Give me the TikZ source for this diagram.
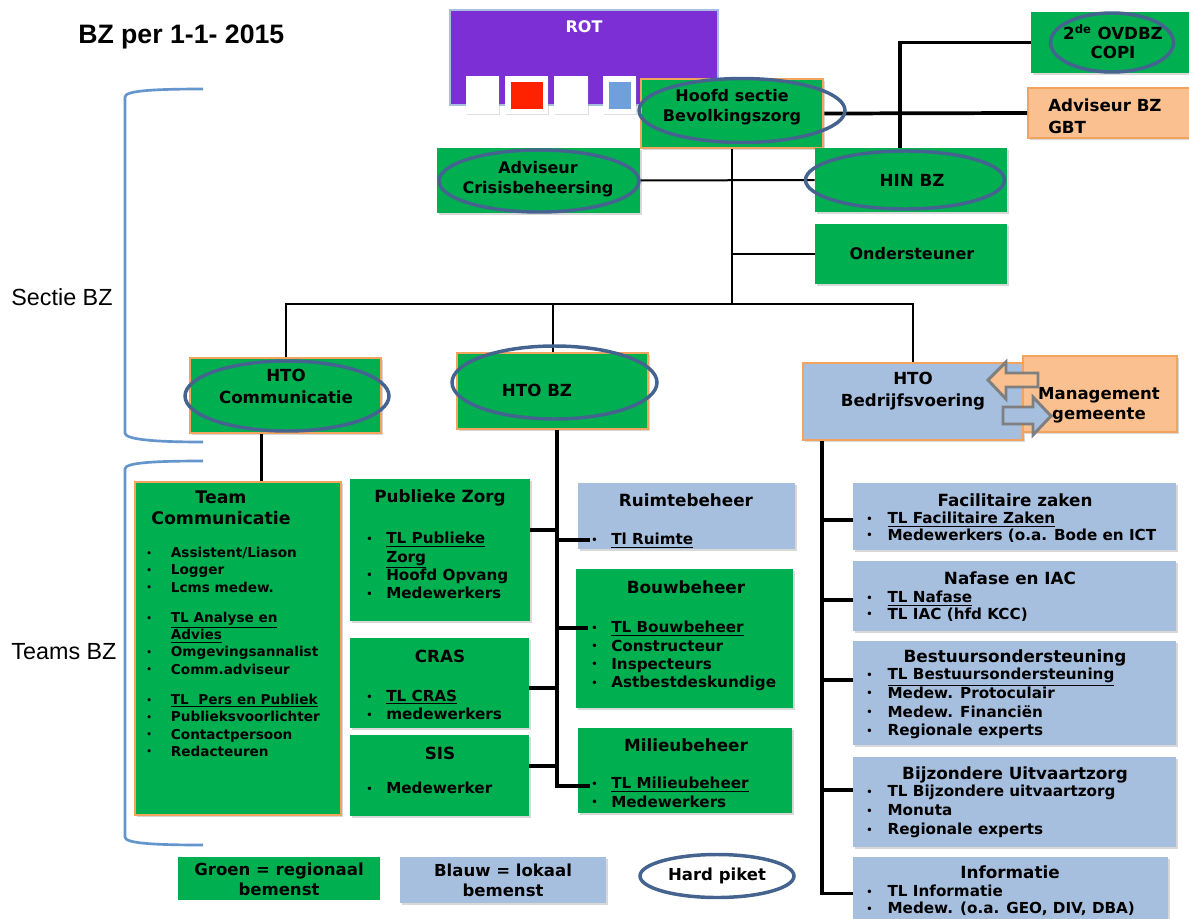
\documentclass[tikz,border=0pt]{standalone}
\usepackage{fontspec}
\setmainfont{DejaVu Sans}
\newfontfamily\arialfont{Liberation Sans}
\usetikzlibrary{fit, shapes.geometric, shadows}

\definecolor{grn}{HTML}{00B050}
\definecolor{orgline}{HTML}{F2A35E}
\definecolor{blu}{HTML}{A7BFDE}
\definecolor{peach}{HTML}{FAC090}
\definecolor{rotpurple}{HTML}{7B2FD4}
\definecolor{ringc}{HTML}{44648F}
\definecolor{bracec}{HTML}{6495CD}
\definecolor{arrgray}{HTML}{7F7F7F}
\definecolor{sqred}{HTML}{FF2200}
\definecolor{sqblue}{HTML}{6FA0DC}

\newlength{\bulw}
\setlength{\bulw}{15pt}
\newcommand{\bul}{\makebox[\bulw][l]{\raisebox{0.1em}{\scalebox{0.65}{\textbullet}}}}
\newcommand{\ttlsz}{\fontsize{12.6}{15.75}\selectfont}
\newcommand{\itmsz}{\fontsize{11.4}{13.7}\selectfont}

\begin{document}
\begin{tikzpicture}[
        x=0.75pt, y=-0.75pt,
        font=\bfseries,
        every node/.style={align=center},
        panel/.style={rectangle, inner sep=0pt,
                      drop shadow={opacity=0.3, shadow xshift=1.5pt, shadow yshift=-1.5pt}},
        grnbox/.style={panel, fill=grn},
        htobox/.style={panel, fill=grn, draw=orgline, line width=2pt},
        blubox/.style={panel, fill=blu},
        peachbox/.style={panel, fill=peach, draw=orgline, line width=1.5pt},
        ring/.style 2 args={ellipse, draw=ringc, line width=2.6pt, inner sep=0pt,
                            minimum width=#1*0.75pt, minimum height=#2*0.75pt},
        lbl/.style={inner sep=0pt},
        ttl/.style={inner sep=0pt, font=\bfseries\ttlsz},
        lst/.style={inner sep=0pt, anchor=north west, align=left, font=\bfseries\itmsz},
        link/.style={line width=1.5pt},
        thklink/.style={line width=2.8pt},
        sidebrace/.style={draw=bracec, line width=2pt},
        blkarrow/.style={draw=arrgray, line width=2.2pt, line join=miter}
    ]
        \useasboundingbox (0,0) rectangle (1189,918);
        \fill[white] (0,0) rectangle (1189,918);

        % Title and side labels
        \node[lbl, anchor=base west, font=\arialfont\bfseries\fontsize{20}{24}\selectfont] (title) at (78,43) {BZ per 1-1- 2015};
        \node[lbl, font=\arialfont\fontsize{17.5}{20}\selectfont] (sectie) at (62,297) {Sectie BZ};
        \node[lbl, font=\arialfont\fontsize{17.5}{20}\selectfont] (teams) at (64,652) {Teams BZ};
        \draw[sidebrace] (203,89) .. controls (150,89) and (125,91) .. (125,97) -- (125,433)
            .. controls (125,439) and (150,442) .. (203,442);
        \draw[sidebrace] (203,461) .. controls (150,461) and (125,463) .. (125,469) -- (125,837)
            .. controls (125,843) and (150,845) .. (203,845);

        % ROT
        \node[fit={(450,10) (718,105)}, fill=rotpurple, draw=blu, line width=0.8pt, inner sep=0pt] (rot) {};
        \node[lbl, text=white, font=\bfseries\fontsize{12}{14}\selectfont] (rot_txt) at (584,27) {ROT};
        \fill[white, drop shadow={opacity=0.25, shadow xshift=1pt, shadow yshift=-1pt}] (466,76) rectangle (499,114);
        \fill[white, drop shadow={opacity=0.25, shadow xshift=1pt, shadow yshift=-1pt}] (505,76) rectangle (548,114);
        \fill[white, drop shadow={opacity=0.25, shadow xshift=1pt, shadow yshift=-1pt}] (554,76) rectangle (588,114);
        \fill[white, drop shadow={opacity=0.25, shadow xshift=1pt, shadow yshift=-1pt}] (603,76) rectangle (636,114);
        \fill[sqred] (511,82) rectangle (543,109);
        \fill[sqblue] (609,82) rectangle (631,109);

        % Section BZ
        \node[htobox, fit={(641,79) (823,148)}] (hoofd) {};
        \node[lbl, font=\bfseries\fontsize{12}{15}\selectfont] (hoofd_txt) at (732,107) {Hoofd sectie\\Bevolkingszorg};
        \node[grnbox, fit={(437,148) (640,213)}] (crisis) {};
        \node[lbl, font=\bfseries\fontsize{12}{15}\selectfont] (crisis_txt) at (538,179) {Adviseur\\Crisisbeheersing};
        \node[grnbox, fit={(815,148) (1007,212)}] (hin) {};
        \node[lbl, font=\bfseries\fontsize{12.5}{15}\selectfont] (hin_txt) at (912,180) {HIN BZ};
        \node[grnbox, fit={(815,224) (1007,284)}] (onder) {};
        \node[lbl, font=\bfseries\fontsize{12}{15}\selectfont] (onder_txt) at (912,254) {Ondersteuner};
        \node[grnbox, fit={(1031,12) (1195,73)}] (copi) {};
        \node[lbl, font=\bfseries\fontsize{12.5}{14.5}\selectfont] (copi_txt) at (1113,42) {2\textsuperscript{de} OVDBZ\\COPI};
        \node[peachbox, fit={(1028,88) (1195,138)}] (gbt) {};
        \node[lbl, anchor=west, align=left, font=\bfseries\fontsize{12.5}{16.5}\selectfont] (gbt_txt) at (1048,116) {Adviseur BZ\\GBT};

        % HTO row
        \node[htobox, fit={(190,358) (381,433)}] (htocom) {};
        \node[lbl, font=\bfseries\fontsize{12.5}{16.5}\selectfont] (htocom_txt) at (286,386) {HTO\\Communicatie};
        \node[htobox, fit={(457,353) (648,429)}] (htobz) {};
        \node[lbl, font=\bfseries\fontsize{12.5}{16.5}\selectfont] (htobz_txt) at (537,390) {HTO BZ};
        \node[htobox, fill=blu, fit={(803,363) (1023,440)}] (htobv) {};
        \node[lbl, font=\bfseries\fontsize{12.5}{16.5}\selectfont] (htobv_txt) at (913,391) {HTO\\Bedrijfsvoering};
        \node[peachbox, fit={(1023,356) (1177,432)}] (mgmt) {};
        \node[lbl, font=\bfseries\fontsize{12.4}{15}\selectfont] (mgmt_txt) at (1099,405) {Management\\gemeente};
        \filldraw[blkarrow, fill=peach] (988,380) -- (1006,362) -- (1006,373) -- (1038,373)
            -- (1038,387) -- (1006,387) -- (1006,399) -- cycle;
        \filldraw[blkarrow, fill=blu] (1051,416) -- (1033,397) -- (1033,407) -- (1003,407)
            -- (1003,424) -- (1033,424) -- (1033,435) -- cycle;

        % Team Communicatie
        \node[htobox, fit={(135,482) (341,815)}] (teamcom) {};
        \node[lbl, font=\bfseries\fontsize{13}{15.75}\selectfont] (teamcom_ttl) at (221,508) {Team\\Communicatie};
        \node[lst, font=\bfseries\fontsize{10.2}{12.9}\selectfont\setlength{\bulw}{18.5pt}] (teamcom_lst) at (146,547)
            {\bul Assistent/Liason\\ \bul Logger\\ \bul Lcms medew.\\[10pt]
             \bul\underline{TL Analyse en}\\ \hspace*{\bulw}\underline{Advies}\\ \bul Omgevingsannalist\\ \bul Comm.adviseur\\[10pt]
             \bul\underline{TL\ \ Pers en Publiek}\\ \bul Publieksvoorlichter\\ \bul Contactpersoon\\ \bul Redacteuren};

        % Teams under HTO BZ, left
        \node[grnbox, fit={(350,479) (530,621)}] (pzorg) {};
        \node[ttl] (pzorg_ttl) at (440,498) {Publieke Zorg};
        \node[lst] (pzorg_lst) at (366,532)
            {\bul\underline{TL Publieke}\\ \hspace*{\bulw}\underline{Zorg}\\ \bul Hoofd Opvang\\ \bul Medewerkers};
        \node[grnbox, fit={(350,638) (529,728)}] (cras) {};
        \node[ttl] (cras_ttl) at (440,656) {CRAS};
        \node[lst] (cras_lst) at (366,690) {\bul\underline{TL CRAS}\\ \bul medewerkers};
        \node[grnbox, fit={(350,735) (529,816)}] (sis) {};
        \node[ttl] (sis_ttl) at (440,753) {SIS};
        \node[lst] (sis_lst) at (366,782) {\bul Medewerker};

        % Teams under HTO BZ, right
        \node[blubox, fit={(578,483) (795,549)}] (ruimte) {};
        \node[ttl] (ruimte_ttl) at (686,500) {Ruimtebeheer};
        \node[lst] (ruimte_lst) at (591,533) {\bul\underline{Tl Ruimte}};
        \node[grnbox, fit={(576,569) (793,708)}] (bouw) {};
        \node[ttl] (bouw_ttl) at (686,587) {Bouwbeheer};
        \node[lst] (bouw_lst) at (591,621)
            {\bul\underline{TL Bouwbeheer}\\ \bul Constructeur\\ \bul Inspecteurs\\ \bul Astbestdeskundige};
        \node[grnbox, fit={(578,728) (792,813)}] (milieu) {};
        \node[ttl] (milieu_ttl) at (686,745) {Milieubeheer};
        \node[lst] (milieu_lst) at (591,777) {\bul\underline{TL Milieubeheer}\\ \bul Medewerkers};

        % Teams under HTO Bedrijfsvoering
        \node[blubox, fit={(853,483) (1176,550)}] (fac) {};
        \node[ttl] (fac_ttl) at (1015,500) {Facilitaire zaken};
        \node[lst, font=\bfseries\fontsize{11.4}{12.2}\selectfont\setlength{\bulw}{16pt}] (fac_lst) at (866,512)
            {\bul\underline{TL Facilitaire Zaken}\\ \bul Medewerkers (o.a. Bode en ICT};
        \node[blubox, fit={(853,561) (1176,631)}] (naf) {};
        \node[ttl] (naf_ttl) at (1010,578) {Nafase en IAC};
        \node[lst, font=\bfseries\fontsize{11.4}{12.2}\selectfont\setlength{\bulw}{16pt}] (naf_lst) at (866,591)
            {\bul\underline{TL Nafase}\\ \bul TL IAC (hfd KCC)};
        \node[blubox, fit={(853,641) (1176,745)}] (best) {};
        \node[ttl] (best_ttl) at (1015,658) {Bestuursondersteuning};
        \node[lst, font=\bfseries\fontsize{11.4}{14}\selectfont\setlength{\bulw}{16pt}] (best_lst) at (866,668)
            {\bul\underline{TL Bestuursondersteuning}\\ \bul Medew. Protoculair\\ \bul Medew. Financiën\\ \bul Regionale experts};
        \node[blubox, fit={(853,757) (1176,847)}] (bijz) {};
        \node[ttl] (bijz_ttl) at (1015,775) {Bijzondere Uitvaartzorg};
        \node[lst, font=\bfseries\fontsize{11.4}{14.2}\selectfont\setlength{\bulw}{16pt}] (bijz_lst) at (866,785)
            {\bul TL Bijzondere uitvaartzorg\\ \bul Monuta\\ \bul Regionale experts};
        \node[blubox, fit={(853,857) (1168,930)}] (info) {};
        \node[ttl] (info_ttl) at (1010,872) {Informatie};
        \node[lst, font=\bfseries\fontsize{11.4}{12.75}\selectfont\setlength{\bulw}{16pt}] (info_lst) at (866,885)
            {\bul TL Informatie\\ \bul Medew. (o.a. GEO, DIV, DBA)};

        % Legend
        \node[fit={(178,857) (380,900)}, fill=grn, inner sep=0pt] (groen) {};
        \node[lbl, font=\bfseries\fontsize{12.4}{15}\selectfont] (groen_txt) at (279,879) {Groen = regionaal\\bemenst};
        \node[blubox, fit={(400,857) (606,903)}] (blauw) {};
        \node[lbl, font=\bfseries\fontsize{12.4}{15}\selectfont] (blauw_txt) at (503,880) {Blauw = lokaal\\bemenst};
        \node[ring={154}{43}, fill=white, font=\bfseries\fontsize{12.4}{15}\selectfont] (piket) at (717,876) {Hard piket};

        % --- Connectors ---
        \coordinate (bus) at (732,304);
        \draw[link] (hoofd.south) -- (bus);
        \draw[link] (crisis) -- (hin);
        \draw[link] (onder.west) -- (onder.west -| bus);
        \draw[link] (htocom.north) |- (bus) -| (htobv.north);
        \draw[link] (htobz.north) -- (htobz.north |- bus);
        \draw[thklink] (hoofd.east) -- (gbt.west);
        \draw[thklink] ([xshift=-8.25pt]hin.north) |- (copi.west);
        \draw[thklink] ([xshift=-18pt]htocom.south) -- ([xshift=-18pt]htocom.south |- teamcom.north);

        % HTO BZ spine
        \coordinate (bzspine) at ([xshift=3.4pt]htobz.south);
        \draw[thklink] ([yshift=15pt]pzorg.east) -| (bzspine);
        \draw[thklink] ([yshift=-3.75pt]cras.east) -| (bzspine);
        \draw[thklink] ([yshift=7.1pt]sis.east) -| (bzspine);
        \draw[thklink] ([xshift=9pt, yshift=-18pt]ruimte.west) -| (bzspine);
        \draw[thklink] ([xshift=9pt, yshift=7.9pt]bouw.west) -| (bzspine);
        \draw[thklink] ([xshift=9pt, yshift=-11.6pt]milieu.west) -| (bzspine);

        % HTO Bedrijfsvoering spine
        \coordinate (bvspine) at ([xshift=-68.25pt]htobv.south);
        \draw[thklink] ([yshift=-2.6pt]fac.west) -| (bvspine);
        \draw[thklink] ([yshift=-3pt]naf.west) -| (bvspine);
        \draw[thklink] ([yshift=9.75pt]best.west) -| (bvspine);
        \draw[thklink] ([yshift=9pt]bijz.west) -| (bvspine);
        \draw[thklink] (info.west) -| (bvspine);

        % Hard piket rings
        \node[ring={206}{64}] (hoofd_ring) at (742,110.5) {};
        \node[ring={200}{62}] (crisis_ring) at (539,181) {};
        \node[ring={199}{58}] (hin_ring) at (905,180) {};
        \node[ring={123}{59}] (copi_ring) at (1112,42.5) {};
        \node[ring={204}{70}] (htocom_ring) at (287,396) {};
        \node[ring={205}{73}] (htobz_ring) at (554.5,382.5) {};
\end{tikzpicture}
\end{document}
